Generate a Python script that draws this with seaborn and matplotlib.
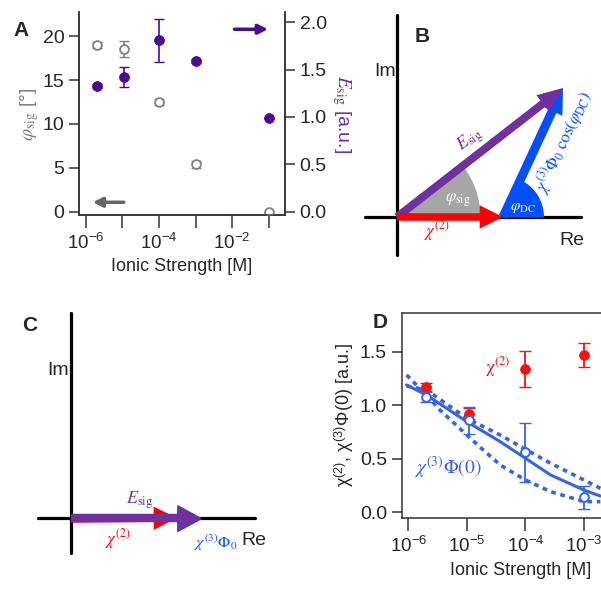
import numpy as np
import pandas as pd
import matplotlib
matplotlib.use('Agg')
import matplotlib.pyplot as plt
import seaborn as sns
from matplotlib.patches import Wedge
from matplotlib.ticker import FixedLocator, FixedFormatter

# ---------------- data ----------------
# panel A
ion_a = [2e-6, 1.1e-5, 1e-4, 1e-3, 1e-1]
phi_sig = [19.0, 18.5, 12.5, 5.4, 0.0]
phi_err = [0.3, 0.9, 0.3, 0.4, 0.0]
e_sig = [1.33, 1.42, 1.81, 1.59, 0.99]
e_err = [0.02, 0.105, 0.225, 0.02, 0.0]
arrow_right = [(10**-2.01, 1.926), (10**-0.94, 1.926)]   # points to right axis
arrow_left = [(10**-4.885, 1.07), (10**-5.89, 1.07)]     # points to left axis

# panel B / C phasor diagrams (units of |chi2|)
chi2_vec = (1.0, 0.0)
esig_vec_b = (1.566, 1.217)
esig_vec_c = (1.233, 0.0)
re_axis_b = [-0.30, 1.74]
im_axis_b = [-0.36, 1.91]
re_axis_c = [-0.31, 1.74]
im_axis_c = [-0.33, 1.93]

# panel D
ion_d = [2e-6, 1.1e-5, 1e-4, 1e-3]
chi2 = [1.17, 0.92, 1.34, 1.47]
chi2_err = [0.04, 0.05, 0.17, 0.115]
chi3 = [1.075, 0.86, 0.56, 0.14]
chi3_err = [0.045, 0.125, 0.275, 0.11]
fit_exp = [-6.03, -5.69, -5.0, -4.43, -4.0, -3.57, -3.0, -2.72]
fit_mid = [1.19, 1.096, 0.847, 0.66, 0.505, 0.349, 0.208, 0.152]
fit_flat = [1.18, 1.143, 0.878, 0.722, 0.589, 0.458, 0.302, 0.224]
steep_exp = [-6.03, -5.69, -5.46, -5.0, -4.72, -4.43, -4.0, -3.57, -3.0, -2.72]
fit_steep = [1.283, 1.096, 0.956, 0.722, 0.582, 0.442, 0.302, 0.193, 0.10, 0.10]

# ---------------- style ----------------
sns.set_theme(style='ticks')
plt.rcParams['font.family'] = ['Liberation Sans', 'DejaVu Sans']
plt.rcParams['mathtext.fontset'] = 'stix'
plt.rcParams['axes.unicode_minus'] = False

PURPLE_A = '#4b0a91'
GRAY = '#808080'
PURPLE = '#7030a0'
BLUE = '#0050ff'
RED = '#ff0000'
BLUE_D = '#3565e0'
RED_D = '#f01515'
FS = 13

W, H = 601, 589
def box(l, t, r, b):
    return [l / W, 1 - b / H, (r - l) / W, (b - t) / H]

fig = plt.figure(figsize=(W / 100, H / 100), dpi=100)

def exp_labels(exps, show):
    return [r'10$^{\mathregular{%d}}$' % e if s else '' for e, s in zip(exps, show)]

# ---------------- panel A ----------------
ax = fig.add_axes(box(79, 12.5, 285, 215))
ax2 = ax.twinx()
ax.set_xscale('log')
ax.errorbar(ion_a, phi_sig, yerr=phi_err, fmt='none', ecolor=GRAY, capsize=3.5, lw=1.2)
sns.scatterplot(x=ion_a, y=phi_sig, ax=ax, marker='o', s=40, facecolor='white',
                edgecolor=GRAY, linewidth=1.3, zorder=3)
ax2.errorbar(ion_a, e_sig, yerr=e_err, fmt='none', ecolor=PURPLE_A, capsize=3.5, lw=1.2)
sns.scatterplot(x=ion_a, y=e_sig, ax=ax2, marker='o', s=50, color=PURPLE_A,
                edgecolor=PURPLE_A, zorder=3)
ax.set_xlim(10**-6.19, 10**-0.55)
ax.set_ylim(-0.38, 22.7)
ax2.set_ylim(-0.035, 2.103)
exps_a = [-6, -5, -4, -3, -2, -1]
ax.xaxis.set_major_locator(FixedLocator([10.0**e for e in exps_a]))
ax.xaxis.set_major_formatter(FixedFormatter(exp_labels(exps_a, [1, 0, 1, 0, 1, 0])))
ax.xaxis.set_minor_locator(FixedLocator([]))
ax.set_yticks([0, 5, 10, 15, 20])
ax2.set_yticks([0, 0.5, 1.0, 1.5, 2.0])
ax2.set_yticklabels(['0.0', '0.5', '1.0', '1.5', '2.0'])
for a in (ax, ax2):
    a.spines['top'].set_visible(False)
    for s in a.spines.values():
        s.set_color('#333333')
        s.set_linewidth(1.1)
    a.tick_params(labelsize=14, length=7, width=1.1, color='#333333')
ax.tick_params(axis='x', length=9, labelsize=FS + 0.5)
ax.set_xlabel('Ionic Strength [M]', fontsize=FS)
ax.set_ylabel(r'$\varphi_{\mathrm{sig}}$ [°]', fontsize=FS + 1, color=GRAY, labelpad=1)
ax2.set_ylabel(r'$E_{\mathrm{sig}}$ [a.u.]', fontsize=FS + 1, color=PURPLE, rotation=270, labelpad=19)
ax2.annotate('', xy=arrow_right[1], xytext=arrow_right[0],
             arrowprops=dict(arrowstyle='-|>', color=PURPLE_A, lw=2.5, mutation_scale=14))
ax.annotate('', xy=arrow_left[1], xytext=arrow_left[0],
            arrowprops=dict(arrowstyle='-|>', color='#666666', lw=2.5, mutation_scale=14))
fig.text(13 / W, 1 - 31 / H, 'A', fontsize=15, fontweight='bold', va='center')

# ---------------- phasor helper ----------------
U = 106.0  # px per unit
def diagram_axes(l, t, r, b, ox, oy):
    a = fig.add_axes(box(l, t, r, b))
    a.set_xlim((l - ox) / U, (r - ox) / U)
    a.set_ylim((oy - b) / U, (oy - t) / U)
    a.axis('off')
    return a

def arrow(a, start, end, color, width, hw, hl, z):
    a.arrow(start[0], start[1], end[0] - start[0], end[1] - start[1], width=width,
            head_width=hw, head_length=hl, length_includes_head=True, fc=color, ec='none', zorder=z)

# ---------------- panel B ----------------
axb = diagram_axes(355, 8, 598, 272, 397, 217)
axb.plot(re_axis_b, [0, 0], color='black', lw=2.3, zorder=1)
axb.plot([0, 0], im_axis_b, color='black', lw=2.3, zorder=1)
ang_sig = np.degrees(np.arctan2(esig_vec_b[1], esig_vec_b[0]))
blue_d = (esig_vec_b[0] - chi2_vec[0], esig_vec_b[1] - chi2_vec[1])
ang_dc = np.degrees(np.arctan2(blue_d[1], blue_d[0]))
axb.add_patch(Wedge((0, 0), 0.78, 0, ang_sig, color='#a6a6a6', zorder=2))
axb.add_patch(Wedge(chi2_vec, 0.38, 0, ang_dc, color=BLUE, zorder=2))
arrow(axb, (0, 0), chi2_vec, RED, 0.07, 0.22, 0.22, 4)
arrow(axb, chi2_vec, esig_vec_b, BLUE, 0.085, 0.21, 0.24, 3)
arrow(axb, (0, 0), esig_vec_b, PURPLE, 0.075, 0.2, 0.24, 3)
axb.text(0.236, 1.70, 'B', fontsize=15, fontweight='bold', ha='center', va='center')
axb.text(-0.015, 1.368, 'Im', fontsize=14, ha='right', va='center')
axb.text(1.65, -0.22, 'Re', fontsize=14, ha='center', va='center')
axb.text(0.69, 0.73, r'$E_{\mathrm{sig}}$', fontsize=13, color=PURPLE, rotation=ang_sig,
         ha='center', va='center')
axb.text(0.57, 0.16, r'$\varphi_{\mathrm{sig}}$', fontsize=12, color='white', ha='center', va='center', zorder=5)
axb.text(0.377, -0.13, r'$\chi^{(2)}$', fontsize=12, color=RED, ha='center', va='center')
axb.text(1.19, 0.085, r'$\varphi_{\mathrm{DC}}$', fontsize=11, color='white', ha='center', va='center', zorder=5)
axb.text(1.57, 0.71, r'$\chi^{(3)}\Phi_0\ \cos(\varphi_{\mathrm{DC}})$', fontsize=12, color=BLUE,
         rotation=ang_dc, ha='center', va='center', rotation_mode='anchor')

# ---------------- panel C ----------------
axc = diagram_axes(12, 302, 292, 578, 71, 518)
axc.plot(re_axis_c, [0, 0], color='black', lw=2.3, zorder=1)
axc.plot([0, 0], im_axis_c, color='black', lw=2.3, zorder=1)
arrow(axc, (0, -0.01), chi2_vec, RED, 0.07, 0.22, 0.22, 2)
arrow(axc, (chi2_vec[0], -0.012), (esig_vec_c[0], -0.012), BLUE, 0.07, 0.25, 0.23, 2)
arrow(axc, (0, 0), esig_vec_c, PURPLE, 0.08, 0.25, 0.23, 3)
axc.text(-0.39, 1.82, 'C', fontsize=15, fontweight='bold', ha='center', va='center')
axc.text(-0.02, 1.396, 'Im', fontsize=14, ha='right', va='center')
axc.text(0.65, 0.17, r'$E_{\mathrm{sig}}$', fontsize=13, color=PURPLE, ha='center', va='center')
axc.text(0.44, -0.2, r'$\chi^{(2)}$', fontsize=12, color=RED, ha='center', va='center')
axc.text(1.37, -0.23, r'$\chi^{(3)}\Phi_0$', fontsize=11.5, color=BLUE, ha='center', va='center')
axc.text(1.605, -0.21, 'Re', fontsize=14, ha='left', va='center')

# ---------------- panel D ----------------
axd = fig.add_axes(box(401.7, 312.7, 640, 518.3))
axd.set_xscale('log')
sns.lineplot(x=[10.0**e for e in fit_exp], y=fit_mid, ax=axd, color=BLUE_D, lw=2.2, sort=False)
sns.lineplot(x=[10.0**e for e in fit_exp], y=fit_flat, ax=axd, color=BLUE_D, lw=2.6,
             sort=False).lines[-1].set_dashes([1.3, 1.3])
sns.lineplot(x=[10.0**e for e in steep_exp], y=fit_steep, ax=axd, color=BLUE_D, lw=2.6,
             sort=False).lines[-1].set_dashes([1.3, 1.3])
axd.errorbar(ion_d, chi2, yerr=chi2_err, fmt='none', ecolor=RED_D, capsize=4, lw=1.3)
sns.scatterplot(x=ion_d, y=chi2, ax=axd, s=50, color=RED_D, edgecolor=RED_D, zorder=3)
axd.errorbar(ion_d, chi3, yerr=chi3_err, fmt='none', ecolor=BLUE_D, capsize=4, lw=1.3)
sns.scatterplot(x=ion_d, y=chi3, ax=axd, s=40, facecolor='white', edgecolor=BLUE_D,
                linewidth=1.4, zorder=4)
axd.set_xlim(10**-6.113, 10**-2.043)
axd.set_ylim(-0.056, 1.865)
exps_d = [-6, -5, -4, -3]
axd.xaxis.set_major_locator(FixedLocator([10.0**e for e in exps_d]))
axd.xaxis.set_major_formatter(FixedFormatter(exp_labels(exps_d, [1, 1, 1, 1])))
axd.xaxis.set_minor_locator(FixedLocator([]))
axd.set_yticks([0, 0.5, 1.0, 1.5])
axd.set_yticklabels(['0.0', '0.5', '1.0', '1.5'])
for s in axd.spines.values():
    s.set_color('#333333')
    s.set_linewidth(1.1)
axd.tick_params(labelsize=14, length=7, width=1.1, color='#333333')
axd.tick_params(axis='x', length=9, labelsize=FS + 0.5)
axd.set_xlabel('Ionic Strength [M]', fontsize=FS)
axd.set_ylabel(r'χ$^{\mathregular{(2)}}$, χ$^{\mathregular{(3)}}$Φ(0) [a.u.]', fontsize=FS, labelpad=3)
axd.text(10**-4.48, 1.36, r'$\mathrm{\chi}^{(2)}$', fontsize=13, color=RED_D, ha='center', va='center')
axd.text(10**-5.32, 0.42, r'$\chi^{(3)}\Phi(0)$', fontsize=14, color=BLUE_D, ha='center', va='center')
fig.text(373 / W, 1 - 322 / H, 'D', fontsize=15, fontweight='bold', va='center')

fig.savefig('out.png', dpi=100)
